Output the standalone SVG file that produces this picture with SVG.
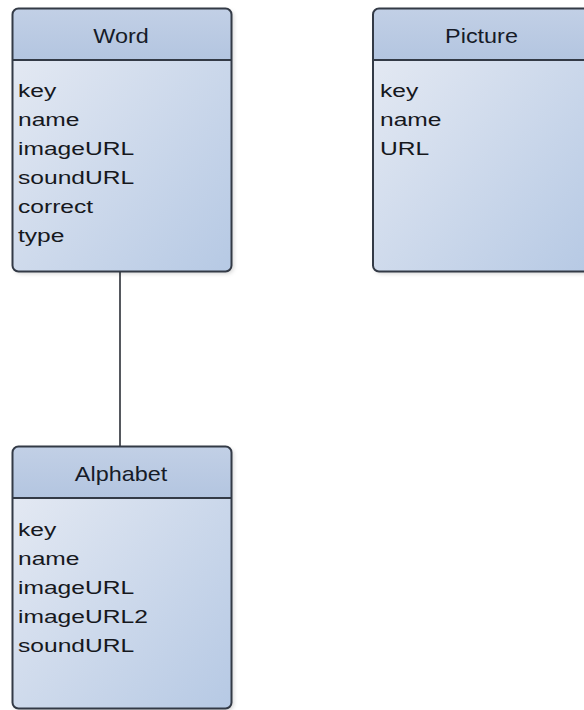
<svg xmlns="http://www.w3.org/2000/svg" width="584" height="710" viewBox="0 0 584 710">
  <defs>
    <linearGradient id="bodyGrad" x1="0" y1="0" x2="1" y2="1">
      <stop offset="0" stop-color="#e8ecf4"/>
      <stop offset="1" stop-color="#b6c9e4"/>
    </linearGradient>
    <linearGradient id="headGrad" x1="0" y1="0" x2="0" y2="1">
      <stop offset="0" stop-color="#c2d0e6"/>
      <stop offset="1" stop-color="#b3c5e0"/>
    </linearGradient>
    <filter id="shadow" x="-10%" y="-10%" width="125%" height="125%">
      <feDropShadow dx="2" dy="2" stdDeviation="2" flood-color="#000" flood-opacity="0.18"/>
    </filter>
    <clipPath id="clipW"><rect x="12.5" y="8.5" width="219" height="263" rx="6"/></clipPath>
    <clipPath id="clipP"><rect x="373" y="8.5" width="219" height="263" rx="6"/></clipPath>
    <clipPath id="clipA"><rect x="12.5" y="446.5" width="219" height="262" rx="6"/></clipPath>
  </defs>
  <style>
    .body { fill: url(#bodyGrad); }
    .head { fill: url(#headGrad); }
    .border { fill: none; stroke: #333a46; stroke-width: 2; }
    .divider { stroke: #333a46; stroke-width: 2; }
    .title { font-family: "Liberation Sans", Arial, sans-serif; font-size: 20px; fill: #161b28; text-anchor: middle; }
    .attr { font-family: "Liberation Sans", Arial, sans-serif; font-size: 18.5px; fill: #16181d; }
    .conn { stroke: #2b2f36; stroke-width: 1.6; fill: none; }
  </style>
  <rect x="0" y="0" width="584" height="710" fill="#ffffff"/>

  <g id="connectors">
    <line class="conn" x1="120" y1="271" x2="120" y2="446"/>
  </g>

  <g id="node-word">
    <rect x="12.5" y="8.5" width="219" height="263" rx="6" class="body" filter="url(#shadow)"/>
    <g clip-path="url(#clipW)"><rect x="12.5" y="8.5" width="219" height="52" class="head"/></g>
    <line class="divider" x1="12.5" y1="60" x2="231.5" y2="60"/>
    <rect x="12.5" y="8.5" width="219" height="263" rx="6" class="border"/>
    <text class="title" transform="translate(121,43) scale(1.17,1)">Word</text>
    <text class="attr" transform="translate(18,97) scale(1.33,1)">key</text>
    <text class="attr" transform="translate(18,126) scale(1.33,1)">name</text>
    <text class="attr" transform="translate(18,155) scale(1.33,1)">imageURL</text>
    <text class="attr" transform="translate(18,184) scale(1.33,1)">soundURL</text>
    <text class="attr" transform="translate(18,213) scale(1.33,1)">correct</text>
    <text class="attr" transform="translate(18,242) scale(1.33,1)">type</text>
  </g>

  <g id="node-picture">
    <rect x="373" y="8.5" width="219" height="263" rx="6" class="body" filter="url(#shadow)"/>
    <g clip-path="url(#clipP)"><rect x="373" y="8.5" width="219" height="52" class="head"/></g>
    <line class="divider" x1="373" y1="60" x2="592" y2="60"/>
    <rect x="373" y="8.5" width="219" height="263" rx="6" class="border"/>
    <text class="title" transform="translate(481.5,43) scale(1.17,1)">Picture</text>
    <text class="attr" transform="translate(380,97) scale(1.33,1)">key</text>
    <text class="attr" transform="translate(380,126) scale(1.33,1)">name</text>
    <text class="attr" transform="translate(380,155) scale(1.33,1)">URL</text>
  </g>

  <g id="node-alphabet">
    <rect x="12.5" y="446.5" width="219" height="262" rx="6" class="body" filter="url(#shadow)"/>
    <g clip-path="url(#clipA)"><rect x="12.5" y="446.5" width="219" height="52" class="head"/></g>
    <line class="divider" x1="12.5" y1="498" x2="231.5" y2="498"/>
    <rect x="12.5" y="446.5" width="219" height="262" rx="6" class="border"/>
    <text class="title" transform="translate(121,481) scale(1.17,1)">Alphabet</text>
    <text class="attr" transform="translate(18,536) scale(1.33,1)">key</text>
    <text class="attr" transform="translate(18,565) scale(1.33,1)">name</text>
    <text class="attr" transform="translate(18,594) scale(1.33,1)">imageURL</text>
    <text class="attr" transform="translate(18,623) scale(1.33,1)">imageURL2</text>
    <text class="attr" transform="translate(18,652) scale(1.33,1)">soundURL</text>
  </g>
</svg>
